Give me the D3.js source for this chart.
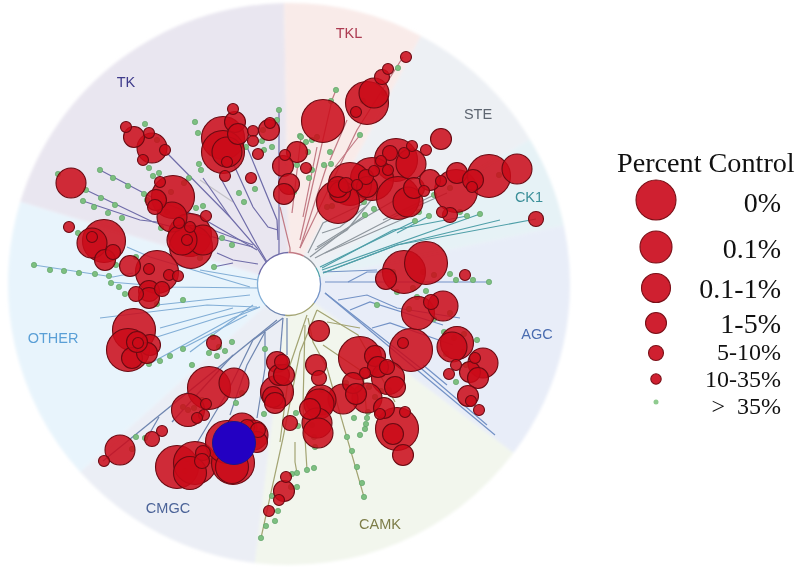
<!DOCTYPE html>
<html><head><meta charset="utf-8">
<script src="https://cdn.jsdelivr.net/npm/d3@7"></script>
<style>
html,body{margin:0;padding:0;background:#fff}
svg{display:block;filter:blur(0.45px)}
</style></head><body>
<svg id="c" width="800" height="575"></svg>
<script>
// Percent-control classes (legend order)
const controlClasses = ["0%","0.1%","0.1-1%","1-5%","5-10%","10-35%",">  35%"];
const classRadii = [21.5,16.5,15,10.5,7.5,5.5,2.7];
const legendRadii = [20,16,14.5,10.5,7.5,5.2,2.5];

// Kinase families and their angular sectors (degrees clockwise from 12 o'clock)
const familyNames  = ["TK","TKL","STE","CK1","AGC","CAMK","CMGC","OTHER"];
const sectorStarts = [287,359,28,59,78,127,187,228];
const sectorEnds   = [359,388,59,78,127,187,228,287];

// Hits: [tree x, tree y, class index], offsets from the tree root
const hitsTK = [[-56,-175,5],[-54,-162,3],[-51,-150,3],[-66,-146,0],[-66,-132,0],[-62,-132,2],[-62,-122,5],[-64,-108,5],[-36,-153,5],[-36,-143,5],[-20,-154,3],[-19,-161,5],[-31,-130,5],[-38,-106,5],[-163,-157,5],[-155,-147,3],[-140,-151,5],[-137,-136,2],[-124,-134,5],[-146,-124,5],[-218,-101,2],[-116,-87,0],[-129,-102,5],[-133,-84,3],[-134,-77,4],[-117,-67,2],[-110,-61,5],[-83,-68,5],[-99,-49,0],[-98,-37,0],[-86,-44,2],[-107,-44,2],[-99,-57,5],[-102,-44,5]];
const hitsOTHER = [[-220,-57,5],[-185,-43,0],[-197,-41,2],[-197,-47,5],[-184,-24,3],[-176,-32,4],[-159,-18,3],[-132,-12,0],[-140,-15,5],[-120,-9,5],[-111,-8,5],[-140,7,3],[-140,14,3],[-153,10,4],[-127,5,4],[-155,46,0],[-161,66,0],[-157,74,3],[-151,59,5],[-139,61,3],[-142,69,3],[-152,58,3],[-75,59,4]];
const hitsCMGC = [[-80,104,0],[-55,99,2],[-101,126,1],[-83,120,5],[-85,131,5],[-92,134,5],[-169,166,2],[-185,177,5],[-137,155,4],[-127,147,5],[-112,183,0],[-94,179,0],[-99,189,1],[-86,169,4],[-87,177,4],[-56,179,0],[-57,183,1],[-62,158,0],[-47,144,2],[-42,143,4],[-36,151,2],[-31,146,4],[-32,158,3],[-12,78,3],[-7,78,4],[-10,91,3],[-5,91,3],[-12,108,1],[-16,113,3],[-14,119,3]];
const hitsCAMK = [[1,139,4],[-3,193,5],[-5,207,3],[-10,216,5],[-20,227,5],[30,47,3],[27,81,3],[30,94,4],[71,74,0],[86,72,3],[89,83,3],[98,83,4],[99,94,1],[106,103,3],[76,89,5],[64,99,3],[67,110,3],[78,114,2],[54,115,2],[32,116,2],[30,120,2],[21,125,3],[28,139,2],[29,149,2],[95,124,3],[91,130,5],[116,128,5],[108,145,0],[104,150,3],[114,171,3]];
const hitsAGC = [[122,66,0],[114,59,5],[129,29,1],[154,22,2],[142,18,4],[168,59,1],[163,63,2],[167,81,5],[160,90,5],[194,79,2],[186,74,5],[181,88,3],[189,94,3],[179,112,3],[182,117,5],[190,126,5],[97,-5,3],[115,-12,0],[137,-21,0],[176,-9,5]];
const hitsTKL = [[117,-227,5],[99,-215,5],[93,-207,4],[78,-181,0],[85,-191,2],[67,-172,5],[34,-163,0],[8,-132,3],[-4,-129,5],[-6,-118,3],[17,-116,5],[0,-100,3],[-5,-90,3]];
const hitsSTE = [[152,-145,3],[137,-134,5],[123,-138,5],[107,-124,0],[101,-131,4],[115,-131,5],[122,-120,2],[99,-114,5],[92,-123,5],[85,-113,5],[83,-105,0],[77,-107,4],[78,-97,3],[109,-86,0],[119,-82,2],[125,-96,3],[135,-93,5],[141,-104,3],[152,-103,5],[167,-93,0],[168,-111,3],[184,-104,3],[183,-97,5],[200,-108,0],[228,-115,2],[61,-100,0],[49,-82,0],[51,-92,3],[49,-97,3],[57,-99,4],[68,-99,5]];
const hitsCK1 = [[153,-72,5],[161,-69,4],[247,-65,4]];
// The reference compound, shown in blue
const referenceKinase = [[-55,159]];

// Kinases above 35% of control: [tree x, tree y]
const inactive = [[-10,-174],[-94,-162],[-91,-151],[-144,-160],[-189,-114],[-176,-106],[-161,-98],[-145,-90],[-206,-83],[-188,-86],[-195,-77],[-174,-79],[-181,-71],[-167,-66],[-231,-110],[-203,-94],[-136,-108],[-130,-111],[-140,-116],[-90,-120],[-88,-114],[-50,-91],[-45,-82],[-34,-95],[-86,-78],[-93,-76],[-67,-46],[-57,-39],[-75,-17],[-255,-19],[-239,-14],[-225,-13],[-210,-11],[-194,-10],[-180,-8],[-211,-51],[-178,-1],[-170,3],[-173,-19],[-153,-27],[-128,-56],[-142,-84],[-118,-92],[-105,-101],[-100,-106],[-122,-72],[-89,-26],[-97,-30],[-132,-144],[-26,-154],[-17,-137],[-25,-134],[-27,-143],[-43,-137],[-78,-131],[-12,-164],[4,-92],[11,-148],[-164,10],[-132,20],[-106,16],[-140,80],[-129,77],[-119,72],[-106,65],[-97,81],[-80,69],[-72,72],[-64,67],[-57,58],[-70,63],[-76,53],[-24,65],[-2,81],[-47,109],[-53,119],[-87,116],[-106,123],[-101,126],[-95,124],[-25,130],[-28,147],[-32,158],[-153,153],[-144,154],[-157,165],[-80,169],[-79,177],[-102,175],[-97,179],[-104,187],[-75,170],[7,129],[9,142],[-28,254],[-23,242],[-14,237],[-11,227],[-17,212],[2,203],[3,190],[8,189],[8,203],[18,186],[25,184],[26,163],[25,153],[23,141],[33,106],[58,153],[63,167],[68,183],[73,199],[75,213],[65,134],[71,151],[76,145],[77,140],[78,134],[79,128],[57,99],[87,90],[80,103],[86,113],[92,107],[100,106],[88,21],[120,25],[128,13],[137,7],[108,8],[124,4],[145,35],[161,29],[155,48],[165,54],[175,50],[188,56],[174,68],[157,70],[177,81],[167,98],[161,-10],[167,-4],[184,-4],[200,-2],[145,-9],[134,-12],[104,-12],[191,-70],[178,-68],[171,-72],[140,-68],[126,-63],[130,-72],[76,-69],[85,-75],[38,-77],[43,-78],[43,-87],[75,-82],[88,-91],[145,-89],[161,-96],[210,-109],[47,-194],[109,-216],[42,-183],[28,-147],[74,-183],[95,-191],[71,-149],[12,-147],[17,-142],[23,-144],[19,-132],[41,-132],[35,-119],[42,-120],[23,-114],[8,-119],[20,-106],[5,-92]];

// Tree branches per family: lists of [tree x, tree y] vertices
const branchesTK = [[[-10,-174],[-10,-44],[-10,-30]],[[-42,-137],[-12,-64],[-11,-44]],[[-56,-121],[-36,-77],[-21,-57],[-11,-54]],[[-69,-107],[-32,-39],[-22,-22]],[[-122,-131],[-59,-67],[-32,-36],[-23,-22]],[[-86,-106],[-59,-67]],[[-203,-94],[-136,-62],[-36,-37]],[[-189,-114],[-132,-84],[-89,-67],[-32,-34]],[[-206,-83],[-149,-64],[-132,-62]],[[-76,-54],[-36,-39]],[[-72,-31],[-56,-24],[-31,-20]],[[-76,-17],[-56,-21]]];
const branchesOTHER = [[[-255,-19],[-176,-7],[-156,-11]],[[-89,-14],[-31,-4]],[[-162,-37],[-139,-27],[-39,3]],[[-179,-2],[-119,3],[-31,4]],[[-189,34],[-82,21],[-32,23]],[[-132,53],[-72,34],[-29,23]],[[-140,80],[-56,34],[-29,23]],[[-129,44],[-56,24]],[[-106,64],[-42,31]],[[-132,21],[-39,11]],[[-99,68],[-36,21]]];
const branchesCMGC = [[[-186,177],[-12,36]],[[-142,154],[-130,133]],[[-117,138],[-56,71]],[[-92,159],[-62,109],[-36,56],[-6,34]],[[-59,131],[-42,81],[-24,48]],[[-32,134],[-24,84],[-24,48]],[[-9,71],[-6,34]],[[-2,71],[-2,34]]];
const branchesCAMK = [[[-28,254],[-6,154],[11,68],[28,26]],[[18,31],[1,81],[-9,158]],[[6,158],[6,178],[8,189]],[[18,186],[14,121],[16,41]],[[19,34],[24,58],[38,84],[75,213]],[[28,26],[69,51],[106,118]],[[34,61],[74,88],[78,134]],[[38,38],[71,44]]];
const branchesAGC = [[[36,9],[134,86],[148,98],[198,141]],[[36,9],[206,151]],[[49,16],[78,11],[108,24],[171,34]],[[61,26],[81,18],[154,41]],[[83,44],[101,39],[164,61]],[[134,81],[158,101]],[[36,-2],[200,-2]],[[59,-2],[78,-12],[104,-12]],[[34,-12],[88,-14]]];
const branchesCK1 = [[[34,-11],[108,-39],[247,-65]],[[34,-11],[108,-39],[211,-64]],[[33,-14],[191,-70]],[[33,-16],[104,-54],[178,-68]],[[31,-17],[126,-63]],[[108,-51],[140,-68]]];
const branchesSTE = [[[26,-26],[113,-71],[158,-91]],[[21,-27],[76,-69]],[[26,-34],[58,-54],[88,-91]],[[19,-31],[34,-61],[76,-81]],[[94,-64],[145,-89]],[[36,-31],[128,-71]],[[28,-37],[68,-62],[106,-84]],[[33,-51],[51,-57],[76,-77]]];
const branchesTKL = [[[1,-31],[1,-36],[-9,-77]],[[11,-36],[68,-154],[114,-227]],[[11,-44],[43,-184],[47,-194]],[[3,-71],[12,-147]],[[14,-67],[28,-137]],[[38,-119],[21,-67],[11,-36]],[[46,-117],[71,-149]],[[58,-164],[41,-124]]];
const branchesFaded = [[[-89,-104],[-56,-82]]];

// ---- styles and layout ----
const sectorFill = {TK:"#e9e6f0",TKL:"#f9ebe9",STE:"#edf0f4",CK1:"#e6f2f6",AGC:"#e8edf8",CAMK:"#f2f6ed",CMGC:"#ebeef5",OTHER:"#e8f4fc"};
const branchColor = {TK:"#6f6ca8",TKL:"#c27a84",STE:"#8f979e",CK1:"#4f9fa8",AGC:"#7392c6",CAMK:"#a3a473",CMGC:"#6f86b0",OTHER:"#82aed6",Faded:"#c4c2c8"};
const labelColor = {TK:"#3f3b8b",TKL:"#ad3c52",STE:"#5d6570",CK1:"#3b8f99",AGC:"#4a6cb0",CAMK:"#7d7d48",CMGC:"#4b6398",OTHER:"#5a9fd6"};
const labelPos = {TK:[126,82],TKL:[349,33],STE:[478,114],CK1:[529,197],AGC:[537,334],CAMK:[380,524],CMGC:[168,508],OTHER:[53,338]};
const legendY = [200,247,288,323,353,379,402];
const legendBase = [212,258,298,333,360,387,414];
const legendFont = [28,28,28,28,24,24,24];

const svg = d3.select("#c");
const soft = svg.append("defs").append("filter").attr("id","soft")
  .attr("x","-5%").attr("y","-5%").attr("width","110%").attr("height","110%");
soft.append("feGaussianBlur").attr("stdDeviation",1.6);
const cx = 289, cy = 284, R = 281, ringR = 31.5;
const x = d3.scaleLinear().domain([-R,R]).range([cx-R,cx+R]);
const y = d3.scaleLinear().domain([-R,R]).range([cy-R,cy+R]);
const rad = d3.scaleOrdinal().domain(d3.range(controlClasses.length)).range(classRadii);
const ang = d3.scaleLinear().domain([0,360]).range([0,2*Math.PI]);
const root = svg.append("g").attr("transform",`translate(${cx},${cy})`);
const families = familyNames.map((name,i)=>({name,start:sectorStarts[i],end:sectorEnds[i]}));

// sectors
const arc = d3.arc().innerRadius(0).outerRadius(R);
root.append("g").attr("filter","url(#soft)").selectAll("path").data(families).join("path")
  .attr("fill",d=>sectorFill[d.name])
  .attr("d",d=>arc({startAngle:ang(d.start),endAngle:ang(d.end)}));

// branches
const line = d3.line().x(d=>x(d[0])).y(d=>y(d[1]));
const branchSets = {Faded:branchesFaded,TK:branchesTK,OTHER:branchesOTHER,CMGC:branchesCMGC,CAMK:branchesCAMK,AGC:branchesAGC,CK1:branchesCK1,STE:branchesSTE,TKL:branchesTKL};
Object.keys(branchSets).forEach(f=>{
  svg.append("g").selectAll("path").data(branchSets[f]).join("path")
    .attr("d",line).attr("fill","none").attr("stroke",branchColor[f]).attr("stroke-width",1.2);
});

// centre ring
const ringG = svg.append("g").attr("transform",`translate(${cx},${cy})`);
ringG.append("circle").attr("r",ringR).attr("fill","#fff");
const ringArc = d3.arc().innerRadius(ringR).outerRadius(ringR);
ringG.selectAll("path").data(families).join("path")
  .attr("fill","none").attr("stroke-width",1.3)
  .attr("stroke",d=>branchColor[d.name])
  .attr("d",d=>ringArc({startAngle:ang(d.start),endAngle:ang(d.end)}));

// inactive kinases sit under the translucent hits
svg.append("g").selectAll("circle").data(inactive).join("circle")
  .attr("cx",d=>x(d[0])).attr("cy",d=>y(d[1])).attr("r",rad(6))
  .attr("fill","#7dbf80").attr("stroke","#5d9f66").attr("stroke-width",0.6);

// hits
const hits = [].concat(hitsTK,hitsOTHER,hitsCMGC,hitsCAMK,hitsAGC,hitsTKL,hitsSTE,hitsCK1)
  .sort((a,b)=>a[2]-b[2]);
svg.append("g").selectAll("circle").data(hits).join("circle")
  .attr("cx",d=>x(d[0])).attr("cy",d=>y(d[1])).attr("r",d=>rad(d[2]))
  .attr("fill","#cb0a18").attr("fill-opacity",0.86)
  .attr("stroke","#6b0a12").attr("stroke-width",1.1);

svg.append("g").selectAll("circle").data(referenceKinase).join("circle")
  .attr("cx",d=>x(d[0])).attr("cy",d=>y(d[1])).attr("r",rad(0))
  .attr("fill","#2300c2").attr("stroke","#1c1688").attr("stroke-width",1);

// family labels
svg.append("g").selectAll("text").data(familyNames).join("text")
  .attr("x",d=>labelPos[d][0]).attr("y",d=>labelPos[d][1]+5)
  .attr("text-anchor","middle").attr("fill",d=>labelColor[d])
  .attr("font-family","Liberation Sans, sans-serif").attr("font-size",14.5)
  .text(d=>d);

// legend
const serif = "Liberation Serif, serif";
svg.append("text").attr("x",617).attr("y",172).attr("font-family",serif).attr("font-size",28.2)
  .attr("fill","#111").text("Percent Control");
const leg = svg.append("g").selectAll("g").data(controlClasses).join("g");
leg.append("circle").attr("cx",656).attr("cy",(d,i)=>legendY[i]).attr("r",(d,i)=>legendRadii[i])
  .attr("fill",(d,i)=>i===6?"#8fcb8f":"#cf2030")
  .attr("stroke",(d,i)=>i===6?"none":"#7a1018").attr("stroke-width",1.1);
leg.append("text").attr("x",781).attr("y",(d,i)=>legendBase[i])
  .attr("text-anchor","end").attr("font-family",serif).attr("font-size",(d,i)=>legendFont[i]).attr("fill","#111")
  .style("white-space","pre").text(d=>d);
</script>
</body></html>
